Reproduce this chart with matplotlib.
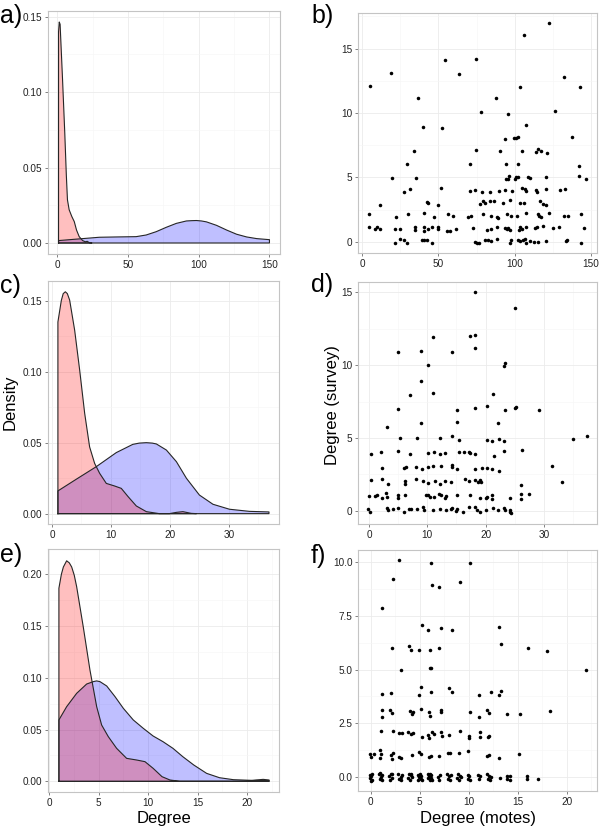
import matplotlib
matplotlib.use('Agg')
import matplotlib.pyplot as plt
import numpy as np

plt.rcParams['font.family'] = ['Liberation Sans', 'DejaVu Sans']

# ---------------- density curves ----------------
# panel a
a_red_x = [1.0, 1.5, 2.1, 3.8, 5.4, 6.5, 7.3, 8.5, 10.4, 12.1, 13.7, 15.6, 18.0, 19.9, 21.3, 22.7, 24.6]
a_red_y = [0.140, 0.1465, 0.145, 0.109, 0.073, 0.045, 0.0286, 0.022, 0.0175, 0.0142, 0.0086, 0.0042, 0.0016, 0.0008, 0.0011, 0.0002, 0.0]
a_blue_x = [1.0, 18.0, 29.8, 41.6, 55.8, 62.9, 70.0, 77.1, 84.2, 91.3, 95.0, 98.4, 102.0, 105.5, 112.6, 119.7, 126.8, 133.9, 141.0, 150.0]
a_blue_y = [0.0016, 0.0029, 0.0038, 0.0040, 0.0042, 0.0053, 0.0075, 0.0104, 0.0130, 0.0146, 0.0148, 0.0149, 0.0146, 0.0140, 0.0117, 0.0086, 0.0058, 0.0040, 0.0029, 0.0022]

# panel c
c_red_x = [1.0, 1.58, 1.9, 2.26, 2.6, 2.99, 3.84, 4.69, 5.54, 6.38, 7.23, 8.08, 9.21, 10.6, 11.75, 12.9, 14.3, 16.0, 18.2, 19.9, 21.1, 22.2, 23.6, 24.5]
c_red_y = [0.135, 0.1502, 0.155, 0.1563, 0.155, 0.1505, 0.1293, 0.1012, 0.0707, 0.047, 0.0354, 0.0284, 0.0213, 0.0195, 0.0178, 0.012, 0.0054, 0.0014, 0.0, 0.0, 0.0009, 0.0014, 0.0002, 0.0]
c_blue_x = [1.0, 4.1, 7.51, 10.9, 13.7, 14.8, 16.0, 17.0, 17.7, 19.4, 21.1, 22.8, 25.0, 27.3, 30.1, 33.5, 36.8]
c_blue_y = [0.016, 0.0242, 0.0331, 0.043, 0.0488, 0.0497, 0.050, 0.0497, 0.0491, 0.0448, 0.0366, 0.0249, 0.0131, 0.0066, 0.0031, 0.0016, 0.0012]

# panel e
e_red_x = [1.0, 1.25, 1.45, 1.78, 2.05, 2.29, 2.55, 2.79, 3.46, 4.13, 4.81, 5.31, 5.98, 6.82, 7.83, 8.84, 9.68, 10.5, 11.4, 12.2, 13.2, 19.9, 20.9, 21.6, 22.2]
e_red_y = [0.1865, 0.200, 0.207, 0.213, 0.211, 0.207, 0.199, 0.188, 0.149, 0.1076, 0.0721, 0.0544, 0.0432, 0.0319, 0.0222, 0.0206, 0.019, 0.0126, 0.0045, 0.0013, 0.0, 0.0, 0.0013, 0.0019, 0.0013]
e_blue_x = [1.0, 1.78, 2.79, 3.8, 4.47, 4.8, 5.14, 5.82, 6.66, 7.5, 8.5, 9.51, 10.5, 11.5, 12.5, 13.5, 14.6, 15.9, 17.2, 18.6, 20.3, 22.2]
e_blue_y = [0.0593, 0.0721, 0.085, 0.094, 0.0963, 0.097, 0.0963, 0.0921, 0.0818, 0.0705, 0.0593, 0.0512, 0.0438, 0.0383, 0.0319, 0.0238, 0.0158, 0.0077, 0.0035, 0.0016, 0.0010, 0.0006]

# ---------------- scatter data ----------------
b_x = [5.5, 18.8, 54.4, 74.4, 63.7, 36.5, 39.7, 52.6, 33.8, 29.7, 19.6, 35.6, 27.5, 31.4, 51.5, 11.6, 42.6, 43.5, 49.6, 4.4,
       22.5, 30.3, 40.4, 47.4, 56.5, 59.4, 69.6, 71.4, 4.8, 8.3, 9.6, 11.6, 21.4, 24.7, 34.7, 34.7, 40.4, 40.4, 43.0, 45.8,
       49.6, 49.6, 55.7, 57.9, 61.3, 72.5, 24.9, 27.7, 29.7, 21.4, 39.1, 40.6, 42.6, 45.6, 74.0, 75.1, 76.6, 70.5, 73.8, 70.5,
       122.5, 106.3, 132.3, 142.5, 103.5, 87.8, 77.7, 126.2, 95.4, 107.4, 137.3, 93.4, 99.5, 101.1, 102.4, 74.7, 90.4, 104.6, 114.2, 115.5,
       117.2, 121.4, 94.3, 102.4, 142.3, 142.3, 146.5, 96.5, 94.5, 95.5, 100.1, 101.1, 102.2, 108.7, 110.0, 120.5, 78.4, 83.6, 89.5, 93.4,
       98.4, 104.8, 106.8, 107.4, 113.7, 114.8, 120.5, 129.7, 132.7, 77.5, 79.0, 80.8, 83.6, 86.4, 92.3, 96.7, 103.5, 106.3, 116.3, 118.3,
       120.5, 79.5, 84.5, 88.4, 89.3, 95.2, 97.4, 101.3, 107.6, 115.2, 115.6, 117.4, 122.2, 132.5, 134.7, 143.4, 82.1, 84.7, 88.4, 93.4,
       94.9, 95.8, 96.7, 103.5, 103.1, 104.8, 107.4, 113.5, 114.6, 118.3, 125.1, 129.2, 145.6, 80.8, 82.3, 84.7, 88.6, 96.7, 97.6, 102.4,
       103.7, 105.2, 106.5, 107.4, 110.2, 112.6, 115.4, 120.3, 133.4, 134.2, 143.4]
b_y = [12.1, 13.1, 14.1, 14.17, 13.0, 11.14, 8.94, 8.86, 7.05, 6.01, 4.92, 4.95, 3.89, 4.1, 4.15, 2.88, 3.06, 2.98, 2.86, 2.18,
       1.95, 2.13, 2.2, 1.95, 2.13, 2.03, 1.93, 1.98, 1.17, 0.99, 1.17, 0.96, 0.99, 0.99, 1.17, 0.88, 1.12, 0.83, 0.96, 1.17,
       1.14, 0.99, 0.83, 0.83, 0.99, 1.09, 0.18, 0.15, -0.1, -0.13, 0.13, 0.13, 0.15, -0.13, 0.0, -0.1, -0.08, 3.96, 4.0, 6.01,
       16.97, 16.06, 12.82, 12.02, 12.0, 11.14, 10.1, 10.15, 9.9, 9.09, 8.13, 8.0, 8.03, 8.03, 8.1, 7.1, 7.08, 7.08, 7.0, 7.2,
       7.08, 6.87, 6.01, 6.01, 5.9, 5.13, 4.87, 5.13, 4.87, 4.87, 4.87, 5.0, 5.03, 5.03, 4.95, 5.03, 3.84, 3.86, 3.94, 3.99,
       3.92, 4.15, 4.07, 3.97, 3.99, 3.89, 4.07, 3.99, 4.07, 2.95, 3.13, 2.97, 3.15, 3.15, 2.97, 3.2, 3.0, 2.99, 3.15, 2.92,
       2.85, 2.15, 2.02, 1.95, 1.82, 2.18, 2.0, 2.02, 2.2, 2.15, 2.02, 1.92, 2.2, 2.0, 2.0, 2.13, 0.91, 1.01, 1.17, 1.04,
       0.99, 1.07, 0.88, 1.17, 0.91, 1.01, 1.14, 1.07, 1.12, 1.22, 1.04, 1.17, 1.04, 0.15, 0.13, 0.02, 0.2, -0.13, 0.13, 0.13,
       0.05, 0.13, 0.2, -0.07, 0.05, -0.05, -0.05, 0.02, 0.05, 0.13, -0.07]

d_x = [18.2, 11.0, 17.3, 18.2, 18.1, 5.03, 8.97, 14.2, 10.1, 9.0, 10.9, 7.03, 15.1, 18.2, 4.92, 9.0, 15.1, 3.14, 5.26, 8.23,
       12.1, 14.2, 15.4, 0.29, 2.06, 4.97, 6.97, 10.17, 11.1, 12.2, 13.0, 15.5, 16.3, 17.1, 17.3, 18.2, 2.29, 5.94, 6.29, 8.06,
       9.03, 10.1, 11.0, 12.3, 14.2, 14.2, 15.1, 18.2, 0.29, 2.29, 3.26, 6.17, 6.17, 8.1, 9.3, 10.1, 11.3, 12.1, 13.0, 14.1,
       16.5, 17.2, 18.1, 18.7, 0.06, 1.1, 1.37, 2.17, 2.91, 3.14, 5.03, 5.03, 6.17, 9.83, 10.17, 10.5, 11.1, 12.06, 12.3, 13.2,
       13.0, 15.1, 17.3, 19.0, -0.11, 0.11, 3.09, 3.2, 4.17, 5.03, 6.0, 6.86, 7.2, 8.17, 9.2, 9.37, 11.0, 12.1, 13.2, 14.1,
       14.3, 14.9, 15.1, 16.1, 17.2, 18.2, 18.5,
       25.1, 23.1, 23.4, 21.3, 20.3, 23.3, 25.1, 25.2, 29.1, 22.06, 20.2, 21.1, 22.3, 23.1, 35.0, 37.3, 21.4, 23.1, 26.3, 19.3,
       20.2, 21.1, 22.3, 31.3, 19.1, 19.14, 26.1, 33.1, 20.0, 20.3, 21.1, 21.1, 24.1, 26.1, 26.1, 27.4, 19.0, 20.1, 21.3, 22.2,
       23.2, 23.4, 24.1, 24.2, 24.3]
d_y = [15.02, 11.95, 12.0, 12.07, 11.2, 10.9, 10.99, 10.9, 10.0, 8.89, 8.1, 7.95, 6.9, 7.07, 6.98, 6.0, 6.08, 5.77, 4.99, 4.99,
       5.0, 5.14, 4.85, 3.89, 4.05, 4.1, 3.87, 3.97, 4.05, 3.92, 4.0, 4.05, 4.02, 4.02, 3.94, 3.89, 2.91, 2.91, 3.03, 3.03,
       2.84, 3.0, 3.05, 3.07, 3.12, 2.98, 2.86, 2.86, 2.11, 2.18, 1.81, 2.02, 1.86, 2.16, 2.02, 1.88, 2.02, 1.81, 2.06, 1.95,
       2.16, 2.02, 2.11, 2.0, 1.0, 0.98, 1.05, 0.86, 1.2, 0.96, 1.1, 0.88, 1.1, 1.1, 1.05, 0.96, 0.91, 1.12, 1.05, 1.0,
       0.86, 1.1, 1.08, 0.88, 0.14, -0.07, 0.2, 0.03, 0.14, 0.2, -0.07, 0.1, 0.14, 0.14, 0.23, 0.08, 0.05, 0.1, 0.08, 0.14,
       0.2, -0.05, 0.14, -0.09, 0.23, 0.28, 0.03,
       13.9, 9.96, 10.16, 8.01, 7.17, 6.93, 7.07, 7.15, 6.95, 6.0, 4.83, 4.81, 4.92, 4.81, 4.92, 5.1, 3.79, 4.1, 4.15, 2.93,
       2.95, 2.89, 2.73, 3.07, 2.11, 1.95, 1.8, 1.97, 0.87, 0.91, 1.08, 0.78, 0.85, 1.17, 0.8, 1.15, -0.1, 0.05, 0.16, 0.05,
       0.16, 0.05, 0.05, -0.1, -0.14]

f_x = [2.85, 6.15, 10.13, 2.24, 6.25, 6.93, 9.1, 1.15, 5.2, 5.88, 7.17, 8.26, 13.1, 2.14, 3.91, 4.08, 4.93, 6.05, 6.93, 13.26,
       16.05, 17.96, 6.1, 6.2, 3.13, 21.98,
       1.12, 2.1, 4.9, 5.17, 6.19, 7.99, 8.26, 11.1, 12.28, 13.06, 13.33,
       1.19, 1.15, 1.97, 2.2, 4.05, 4.18, 4.35, 5.17, 5.92, 6.05, 7.2, 7.2, 10.13, 11.05, 11.9, 12.07, 13.95, 15.27, 18.33,
       1.05, 2.24, 2.92, 3.16, 3.84, 4.11, 4.35, 5.24, 5.81, 5.92, 6.29, 6.43, 7.14, 7.31, 7.96, 9.15, 10.0, 10.06, 11.15, 11.15,
       12.0, 12.1,
       -0.1, 0.0, 0.3, 0.95, 1.02, 0.95, 2.04, 2.14, 2.24, 3.13, 4.18, 4.96, 5.13, 5.92, 6.12, 7.0, 7.92, 8.09, 8.98, 9.96,
       11.9, 12.1, 13.1, 15.1, 2.9,
       -0.12, -0.08, 0.06, 0.10, 0.18, -0.02, 0.85, 0.92, 1.05, 1.12, 1.20, 0.98, 1.85, 1.95, 2.08, 2.15, 2.22,
       2.82, 2.90, 3.05, 3.12, 3.20, 3.82, 3.88, 4.00, 4.08, 4.15, 4.22, 4.80, 4.86, 4.95, 5.05, 5.12, 5.18, 5.25,
       5.80, 5.85, 5.92, 6.00, 6.06, 6.12, 6.20, 6.25, 6.88, 7.02, 7.12, 7.82, 7.90, 8.02, 8.12, 8.20,
       8.85, 8.95, 9.05, 9.12, 9.20, 9.88, 9.95, 10.08, 10.15, 11.0, 11.19, 11.1, 11.9, 12.07, 11.95, 12.14, 12.27,
       13.19, 13.9, 14.18, 13.92, 14.18, 15.98, 15.98, 17.1]
f_y = [10.08, 9.97, 9.97, 9.19, 8.92, 8.84, 9.07, 7.86, 7.09, 6.84, 6.93, 6.85, 6.99, 5.98, 6.08, 5.89, 5.9, 5.89, 6.01, 6.19,
       6.02, 5.88, 5.07, 5.07, 4.98, 4.98,
       3.86, 3.89, 3.8, 4.17, 3.95, 4.12, 3.94, 3.8, 3.94, 3.8, 3.99,
       3.1, 2.81, 3.13, 3.0, 3.05, 2.95, 3.02, 3.15, 3.04, 2.85, 3.04, 3.14, 3.04, 2.81, 3.13, 2.96, 2.94, 2.93, 3.05,
       2.12, 2.15, 2.05, 2.05, 2.08, 2.02, 2.05, 1.87, 1.95, 1.83, 2.11, 2.02, 2.08, 1.92, 1.95, 2.14, 1.8, 1.92, 2.1, 1.88,
       1.88, 1.92,
       1.05, 0.92, 1.05, 1.24, 1.05, 0.89, 1.01, 0.84, 1.11, 0.89, 1.02, 1.15, 1.07, 0.94, 1.0, 0.99, 1.14, 1.11, 1.11, 1.22,
       0.99, 1.04, 0.89, 1.09, 0.95,
       0.10, -0.06, 0.04, -0.14, 0.14, -0.18, 0.12, -0.08, 0.02, -0.16, 0.10, 0.18, 0.06, -0.12, 0.12, -0.04, 0.16,
       0.14, -0.10, 0.02, -0.16, 0.10, -0.06, 0.12, -0.14, 0.08, 0.16, -0.02, 0.10, -0.12, 0.02, 0.16, -0.08, 0.06, -0.16,
       0.12, -0.06, 0.04, -0.16, 0.14, -0.04, 0.08, -0.12, 0.02, -0.14, 0.10, 0.12, -0.08, 0.04, -0.14, 0.10,
       -0.04, 0.14, -0.12, 0.06, 0.00, 0.10, -0.10, 0.04, -0.14, 0.11, 0.06, -0.08, 0.14, 0.06, -0.08, -0.16, 0.0,
       -0.04, 0.06, 0.06, -0.10, -0.14, 0.05, -0.09, -0.08]

panel_letters = ['a)', 'b)', 'c)', 'd)', 'e)', 'f)']

W, H = 600, 827
fig = plt.figure(figsize=(W / 100, H / 100), dpi=100)


def px_axes(l, t, r, b):
    return fig.add_axes([l / W, 1 - b / H, (r - l) / W, (b - t) / H])


def style(ax, xlim, ylim, xt, yt, xminor, yminor, xlab, ylab):
    ax.set_xlim(*xlim)
    ax.set_ylim(*ylim)
    ax.set_xticks(xt)
    ax.set_xticklabels(xlab)
    ax.set_yticks(yt)
    ax.set_yticklabels(ylab)
    ax.set_xticks(xminor, minor=True)
    ax.set_yticks(yminor, minor=True)
    ax.grid(which='major', color='#EBEBEB', lw=0.6)
    ax.grid(which='minor', color='#F6F6F6', lw=0.4)
    ax.set_axisbelow(True)
    for s in ax.spines.values():
        s.set_color('#C4C4C4')
        s.set_linewidth(0.8)
    ax.tick_params(which='major', length=2.5, width=0.6, color='#6E6E6E',
                   labelsize=7.2, labelcolor='#222222', pad=1.5)
    ax.tick_params(which='minor', length=0)


def density(ax, x, y, col):
    xs = [x[0]] + list(x) + [x[-1]]
    ys = [0.0] + list(y) + [0.0]
    ax.fill(xs, ys, facecolor=col, alpha=0.25, edgecolor='none', zorder=2)
    ax.plot(xs + [x[0]], ys + [0.0], color='#262626', lw=0.8, zorder=3,
            solid_joinstyle='round')


dlab = lambda vals: ['%.2f' % v for v in vals]
DOT = 6.5

# a
ax = px_axes(48, 11, 280, 254)
density(ax, a_blue_x, a_blue_y, 'blue')
density(ax, a_red_x, a_red_y, 'red')
style(ax, (-6.45, 157.45), (-0.0073, 0.1538), [0, 50, 100, 150], [0, 0.05, 0.10, 0.15],
      [25, 75, 125], [0.025, 0.075, 0.125], ['0', '50', '100', '150'], dlab([0, 0.05, 0.10, 0.15]))

# b
ax = px_axes(358, 13, 597, 253)
ax.scatter(b_x, b_y, s=DOT, c='black', linewidths=0, zorder=3)
style(ax, (-2.6, 153.9), (-0.88, 17.77), [0, 50, 100, 150], [0, 5, 10, 15],
      [25, 75, 125], [2.5, 7.5, 12.5, 17.5], ['0', '50', '100', '150'], ['0', '5', '10', '15'])

# c
ax = px_axes(48, 281, 279, 524)
density(ax, c_blue_x, c_blue_y, 'blue')
density(ax, c_red_x, c_red_y, 'red')
style(ax, (-0.68, 38.5), (-0.0073, 0.1639), [0, 10, 20, 30], [0, 0.05, 0.10, 0.15],
      [5, 15, 25, 35], [0.025, 0.075, 0.125], ['0', '10', '20', '30'], dlab([0, 0.05, 0.10, 0.15]))

# d
ax = px_axes(358, 282, 597, 524)
ax.scatter(d_x, d_y, s=DOT, c='black', linewidths=0, zorder=3)
style(ax, (-1.89, 39.1), (-0.91, 15.71), [0, 10, 20, 30], [0, 5, 10, 15],
      [5, 15, 25, 35], [2.5, 7.5, 12.5], ['0', '10', '20', '30'], ['0', '5', '10', '15'])

# e
ax = px_axes(48, 549, 279, 792)
density(ax, e_blue_x, e_blue_y, 'blue')
density(ax, e_red_x, e_red_y, 'red')
style(ax, (-0.1, 23.2), (-0.0103, 0.2244), [0, 5, 10, 15, 20], [0, 0.05, 0.10, 0.15, 0.20],
      [2.5, 7.5, 12.5, 17.5, 22.5], [0.025, 0.075, 0.125, 0.175], ['0', '5', '10', '15', '20'],
      dlab([0, 0.05, 0.10, 0.15, 0.20]))

# f
ax = px_axes(358, 550, 597, 791)
ax.scatter(f_x, f_y, s=DOT, c='black', linewidths=0, zorder=3)
style(ax, (-1.3, 23.1), (-0.65, 10.56), [0, 5, 10, 15, 20], [0, 2.5, 5, 7.5, 10],
      [2.5, 7.5, 12.5, 17.5, 22.5], [1.25, 3.75, 6.25, 8.75], ['0', '5', '10', '15', '20'],
      ['0.0', '2.5', '5.0', '7.5', '10.0'])

# panel letters
letter_pos = [(0, 23), (311, 23), (0, 293), (311, 292), (0, 562), (311, 563)]
for lab, (lx, ly) in zip(panel_letters, letter_pos):
    fig.text(lx / W, 1 - ly / H, lab, fontsize=18, color='black', ha='left', va='baseline')

# axis titles
fig.text(10 / W, 1 - 402 / H, 'Density', rotation=90, fontsize=12, ha='center', va='center')
fig.text(332 / W, 1 - 405 / H, 'Degree (survey)', rotation=90, fontsize=12, ha='center', va='center')
fig.text(164 / W, 1 - 818 / H, 'Degree', fontsize=12, ha='center', va='center')
fig.text(478 / W, 1 - 818 / H, 'Degree (motes)', fontsize=12, ha='center', va='center')

fig.savefig('out.png', dpi=100)
